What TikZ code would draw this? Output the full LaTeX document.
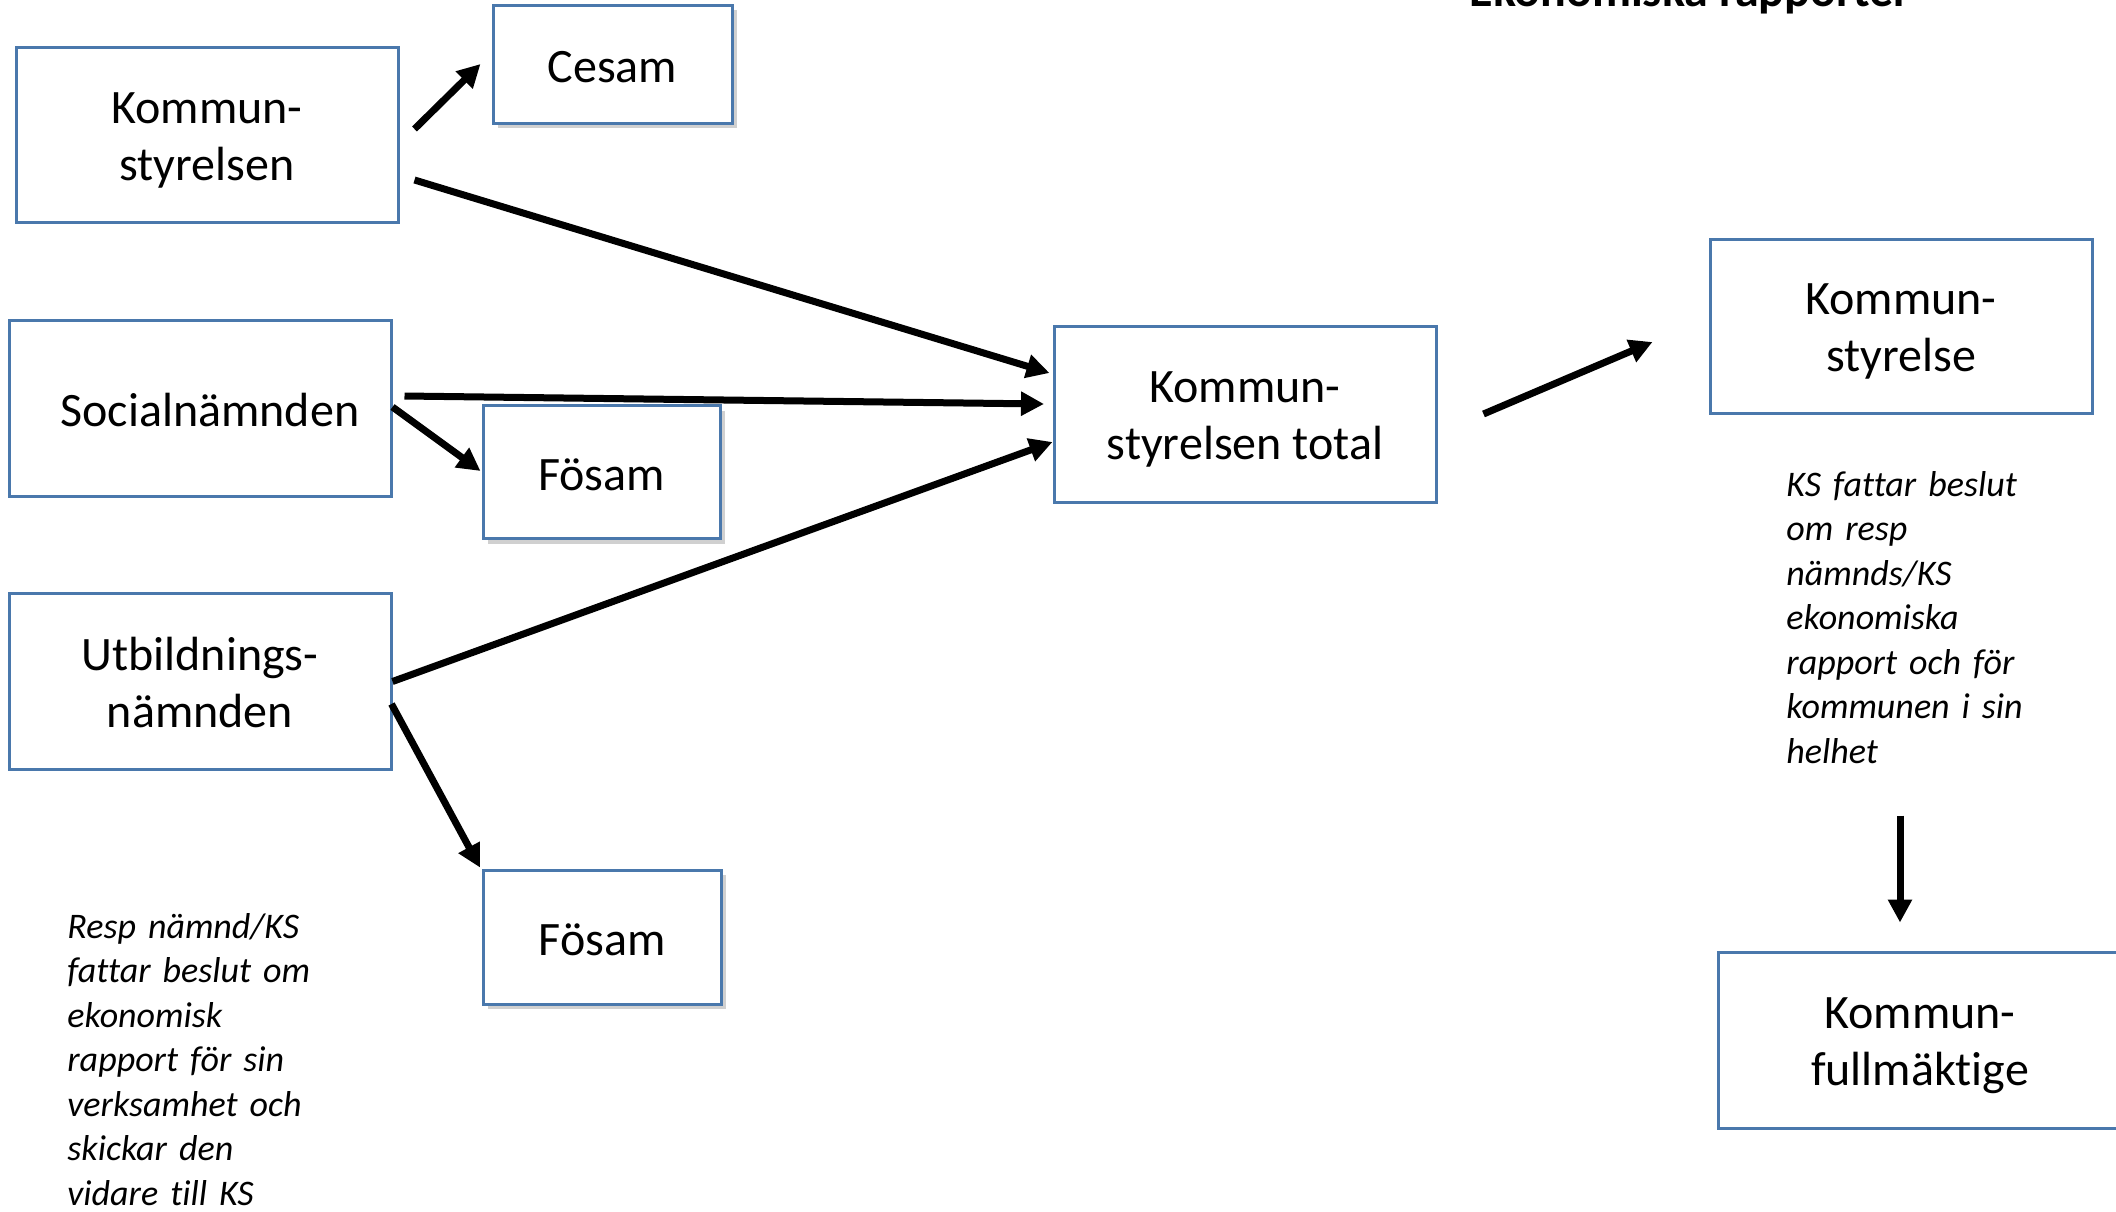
\documentclass[tikz,border=0pt]{standalone}
\usepackage{fontspec}
\setmainfont{Carlito}[Ligatures={NoCommon}]
\usetikzlibrary{arrows.meta,shadows}
\definecolor{boxblue}{HTML}{4A78AC}
\newcommand\tlA{\rule{0pt}{25pt}}
\newcommand\tlB{\rule[-8pt]{0pt}{0pt}}
\newcommand\olA{\rule{0pt}{22pt}}
\newcommand\olB{\rule[-4pt]{0pt}{0pt}}
\tikzset{
  box/.style={draw=boxblue, line width=1.5pt, fill=white, align=center, inner sep=0pt,
    font=\fontsize{24pt}{28.5pt}\selectfont},
  shad/.style={drop shadow={shadow xshift=2.5pt, shadow yshift=-2.5pt, opacity=0.3, fill=black!60}},
  arr/.style={line width=3.5pt, -{Triangle[length=11.5pt,width=11.5pt]}},
  note/.style={font=\fontsize{18pt}{22.25pt}\selectfont\itshape, align=left, text width=140pt,
    inner sep=0pt, anchor=base west},
}
\begin{document}
\begin{tikzpicture}[x=0.5pt,y=-0.5pt]
\useasboundingbox (0,0) rectangle (2116,1211);
\fill[white] (0,0) rectangle (2116,1211);

\node[font=\fontsize{24pt}{28.5pt}\selectfont\bfseries, anchor=base, inner sep=0pt] (title) at (1690,6.5) {Ekonomiska rapporter};

\node[box, minimum width=191pt, minimum height=87.5pt] (ks) at (207,134.5) {\tlA Kommun-\\styrelsen\tlB};
\node[box, shad, minimum width=119.5pt, minimum height=59pt] (cesam) at (612.5,64) {\olA Cesam\olB};
\node[box, minimum width=191pt, minimum height=88pt] (soc) at (200,408) {\olA\hspace*{10pt}Socialnämnden\olB};
\node[box, shad, minimum width=118.5pt, minimum height=66.5pt] (fos1) at (601.5,472) {\olA Fösam\olB};
\node[box, minimum width=191pt, minimum height=88pt] (utb) at (200,681.5) {\tlA Utbildnings-\\nämnden\tlB};
\node[box, shad, minimum width=119pt, minimum height=67pt] (fos2) at (602,937) {\olA Fösam\olB};
\node[box, minimum width=191pt, minimum height=88pt] (tot) at (1245,414) {\tlA Kommun-\\styrelsen total\tlB};
\node[box, minimum width=191pt, minimum height=87pt] (ksr) at (1901,326) {\tlA Kommun-\\styrelse\tlB};
\node[box, minimum width=202pt, minimum height=88pt] (kf) at (1920,1040) {\tlA Kommun-\\fullmäktige\tlB};

\node[note] (noteL) at (67,938) {Resp nämnd/KS\\fattar beslut om\\ekonomisk\\rapport för sin\\verksamhet och\\skickar den\\vidare till KS};
\node[note] (noteR) at (1786,496) {KS fattar beslut\\om resp\\nämnds/KS\\ekonomiska\\rapport och för\\kommunen i sin\\helhet};

\draw[arr] ([shift={(15,-5.5)}]ks.east) -- ([shift={(-11,0)}]cesam.west);
\draw[arr] ([shift={(15,45.5)}]ks.east) -- ([shift={(-3,-41)}]tot.west);
\draw[arr] ([shift={(12,-12)}]soc.east) -- ([shift={(-8.5,-10)}]tot.west);
\draw[arr] ([shift={(0,-1)}]soc.east) -- ([shift={(-1,-1)}]fos1.west);
\draw[arr] (utb.east) -- ([shift={(0,28)}]tot.west);
\draw[arr] ([shift={(-1,22.5)}]utb.east) -- ([shift={(-1.5,-1)}]fos2.north west);
\draw[arr] ([shift={(46,0)}]tot.east) -- ([shift={(-56,16)}]ksr.west);
\draw[arr] ([shift={(-1,401)}]ksr.south) -- ([shift={(-20,-28)}]kf.north);
\end{tikzpicture}
\end{document}
